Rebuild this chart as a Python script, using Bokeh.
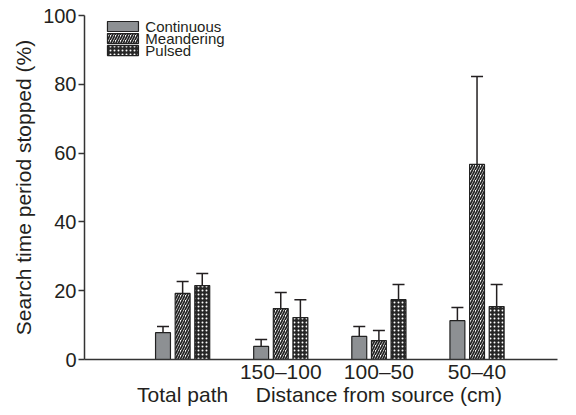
from bokeh.plotting import figure
from bokeh.models import (ColumnDataSource, Range1d, FixedTicker, LinearAxis,
                          Whisker, TeeHead)
from bokeh.core.properties import value
from bokeh.embed import file_html
from bokeh.resources import INLINE

# Search time spent stopped (%), mean and upper error (mean + SE)
groups = ["Total path", "150–100", "100–50", "50–40"]
continuous = [7.8, 3.8, 6.7, 11.3]
continuous_err = [9.6, 5.8, 9.6, 15.1]
meandering = [19.2, 14.8, 5.5, 56.7]
meandering_err = [22.7, 19.5, 8.4, 82.3]
pulsed = [21.5, 12.2, 17.4, 15.4]
pulsed_err = [25.0, 17.4, 21.8, 21.8]

series_names = ["Continuous", "Meandering", "Pulsed"]
distance_ticks = {2: "150–100", 3: "100–50", 4: "50–40"}
bottom_ticks = {1: "Total path", 3: "Distance from source (cm)"}

FONT = "Liberation Sans"
INK = "#231f20"
EDGE = "#222222"

p = figure(width=576, height=415, output_backend="svg", toolbar_location=None,
           x_range=Range1d(0, 4.82), y_range=Range1d(0, 100),
           min_border_left=84, min_border_right=19, min_border_top=15,
           min_border_bottom=56, x_axis_type=None)
p.outline_line_color = None
p.xgrid.grid_line_color = None
p.ygrid.grid_line_color = None
p.background_fill_color = "white"

centers = list(range(1, len(groups) + 1))
offset = 0.2
bar_w = 0.152

# fill styles for the three stimulus types
styles = [
    dict(fill_color="#8d9093"),
    dict(fill_color="white", hatch_pattern="/", hatch_color=EDGE,
         hatch_scale=5, hatch_weight=1.7),
    dict(fill_color="#262626", hatch_pattern="dot", hatch_color="white",
         hatch_scale=4, hatch_weight=2.2),
]

for k, (vals, errs) in enumerate([(continuous, continuous_err),
                                  (meandering, meandering_err),
                                  (pulsed, pulsed_err)]):
    shift = (k - 1) * offset
    src = ColumnDataSource(dict(x=[c + shift for c in centers], top=vals, upper=errs))
    p.add_layout(Whisker(source=src, base="x", lower="top", upper="upper",
                         line_color=INK, line_width=1.5, lower_head=None,
                         upper_head=TeeHead(size=12, line_color=INK, line_width=1.5)))
    p.vbar(x="x", top="top", width=bar_w, source=src,
           line_color=EDGE, line_width=1.2, **styles[k])

# key in the upper left corner of the plot area
key_x = 0.392
key_y = [96.8, 93.3, 89.8]
for k, name in enumerate(series_names):
    p.rect(x=[key_x], y=[key_y[k]], width=31, height=10,
           width_units="screen", height_units="screen",
           line_color=EDGE, line_width=1.2, **styles[k])
p.text(x=[0.62] * 3, y=key_y, text=series_names,
       text_font=value(FONT), text_font_size="15px", text_color=INK,
       text_baseline="middle", text_align="left")

# y axis
yax = p.yaxis[0]
yax.ticker = FixedTicker(ticks=[0, 20, 40, 60, 80, 100])
yax.minor_tick_line_color = None
yax.major_tick_out = 6
yax.major_tick_in = 0
yax.axis_line_color = "#333333"
yax.axis_line_width = 1.5
yax.major_tick_line_color = "#333333"
yax.major_tick_line_width = 1.5
yax.major_label_text_font = FONT
yax.major_label_text_font_size = "20px"
yax.major_label_text_color = INK
yax.major_label_standoff = 2
yax.axis_label = "Search time period stopped (%)"
yax.axis_label_text_font = FONT
yax.axis_label_text_font_size = "21px"
yax.axis_label_text_font_style = "normal"
yax.axis_label_text_color = INK
yax.axis_label_standoff = 5

# bottom axis: distance band labels
xax = LinearAxis(ticker=FixedTicker(ticks=list(distance_ticks.keys())),
                 major_label_overrides=distance_ticks)
xax.axis_line_color = "#333333"
xax.axis_line_width = 1.5
xax.major_tick_line_color = None
xax.minor_tick_line_color = None
xax.major_tick_out = 0
xax.major_tick_in = 0
xax.major_label_standoff = 0
xax.major_label_text_font = FONT
xax.major_label_text_font_size = "21px"
xax.major_label_text_color = INK
p.add_layout(xax, "below")

# second line of category labels
xax2 = LinearAxis(ticker=FixedTicker(ticks=list(bottom_ticks.keys())),
                  major_label_overrides=bottom_ticks)
xax2.axis_line_color = None
xax2.major_tick_line_color = None
xax2.minor_tick_line_color = None
xax2.major_tick_out = 0
xax2.major_tick_in = 0
xax2.major_label_standoff = -3
xax2.major_label_text_font = FONT
xax2.major_label_text_font_size = "21px"
xax2.major_label_text_color = INK
p.add_layout(xax2, "below")

open("out.html", "w").write(file_html(p, INLINE))
